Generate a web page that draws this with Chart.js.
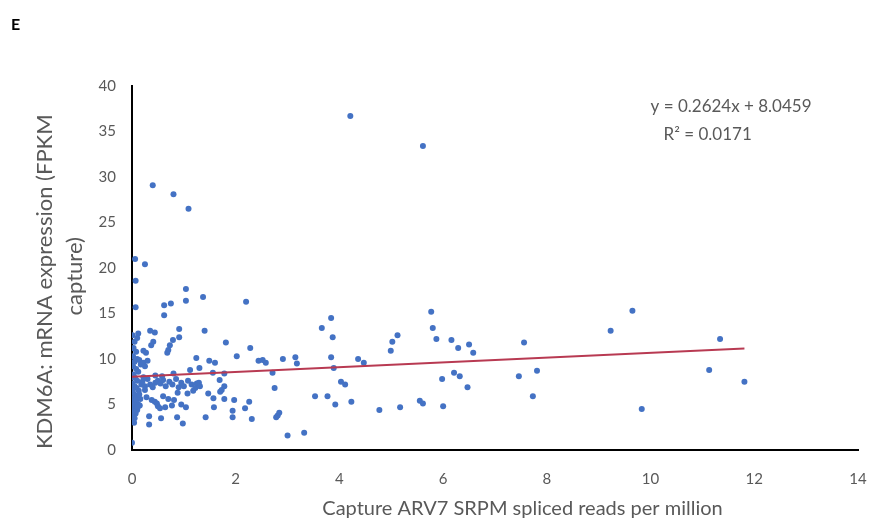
<!DOCTYPE html>
<html>
<head>
<meta charset="utf-8">
<script src="https://cdn.jsdelivr.net/npm/chart.js@4.4.1/dist/chart.umd.min.js"></script>
<style>
  body { margin: 0; background: #fff; }
  #wrap { position: relative; width: 872px; height: 521px; }
  #panel { position: absolute; left: 11px; top: 14px; font: bold 16px Lato, sans-serif; color: #000; }
</style>
</head>
<body>
<div id="wrap">
  <div id="panel">E</div>
  <canvas id="chart"></canvas>
</div>
<script>
// x: Capture ARV7 SRPM, y: KDM6A FPKM (same order)
const arvReads = [
    // top / outliers
    4.21, 5.61, 0.40, 0.80, 1.09, 0.06, 0.25, 0.07, 1.04, 1.37, 1.04, 2.20, 0.07, 0.62, 0.75, 0.62,
    // column at the y axis
    0.01, 0.05, 0.10, 0.12, 0.03, 0.08, 0.02, 0.10, 0.05, 0.14, 0.02, 0.08, 0.12, 0.03, 0.06, 0.10,
    0.01, 0.05, 0.09, 0.13, 0.02, 0.06, 0.10, 0.01, 0.04, 0.08, 0.12, 0.02, 0.06, 0.10, 0.03, 0.07,
    0.01, 0.05, 0.02, 0.04, 0.00, 0.15, 0.16, 0.14, 0.18, 0.03, 0.07, 0.11, 0.00, 0.00, 0.17,
    // 0.15 - 0.5
    0.22, 0.27, 0.22, 0.25, 0.30, 0.35, 0.44, 0.41, 0.37, 0.28, 0.38, 0.44, 0.33, 0.33, 0.20, 0.25,
    0.30, 0.35, 0.40, 0.45, 0.50, 0.22, 0.48, 0.50, 0.25, 0.45,
    // 0.5 - 1.3
    0.54, 0.56, 0.64, 0.77, 0.81, 0.87, 0.98, 1.04, 1.07, 0.79, 0.73, 0.70, 0.68, 0.91, 0.91, 0.80,
    1.12, 0.55, 0.60, 0.65, 0.72, 0.78, 0.85, 0.90, 0.95, 1.00, 1.08, 1.15, 1.22, 1.25, 0.60, 0.70,
    0.88, 0.95, 0.58, 1.18,
    // 1.3 - 3.3
    1.30, 1.40, 1.81, 2.28, 2.02, 1.24, 1.49, 1.60, 2.44, 2.52, 2.58, 2.91, 3.15, 3.18, 2.71, 1.78,
    1.56, 1.69, 1.29, 1.31, 1.78, 1.73, 1.70, 1.47, 1.57, 1.78, 1.97, 2.26, 2.75, 1.58, 1.94, 2.18,
    1.42, 1.94, 2.31, 2.78, 2.81, 2.84, 3.00, 3.32,
    // beyond 3.3
    3.53, 3.77, 3.66, 3.84, 3.87, 3.84, 3.89, 4.03, 4.11, 3.92, 4.23, 4.36, 4.47, 4.77, 5.17, 4.99,
    5.02, 5.12, 5.55, 5.61, 5.77, 5.80, 5.87, 5.98, 6.00, 6.16, 6.29, 6.50, 6.58, 6.21, 6.32, 6.47,
    7.56, 7.46, 7.73, 7.81, 9.23, 9.65, 9.83, 11.13, 11.34, 11.81
];
const kdmExpression = [
    36.7, 33.4, 29.1, 28.1, 26.5, 21.0, 20.4, 18.6, 17.7, 16.8, 16.4, 16.3, 15.7, 15.9, 16.1, 14.8,
    12.6, 11.9, 12.3, 12.8, 11.2, 10.8, 10.3, 10.0, 9.7, 9.9, 9.2, 8.9, 8.6, 8.3, 7.9, 7.6,
    7.3, 7.0, 6.8, 6.5, 6.3, 6.0, 5.8, 5.6, 5.4, 5.2, 5.0, 4.8, 4.6, 4.4, 4.2, 4.0,
    3.7, 3.5, 3.2, 3.0, 0.8, 4.9, 5.6, 6.1, 7.2, 5.1, 5.5, 4.7, 6.6, 8.0, 9.4,
    10.9, 10.7, 9.6, 9.2, 9.8, 13.1, 12.9, 11.9, 11.5, 5.8, 5.5, 5.3, 3.7, 2.8, 7.5, 7.0,
    7.8, 7.2, 6.9, 7.4, 7.6, 8.0, 5.1, 4.8, 6.6, 8.2,
    4.6, 3.5, 4.7, 4.9, 5.5, 3.6, 2.9, 4.7, 6.2, 12.1, 11.5, 11.0, 10.7, 13.3, 12.4, 8.4,
    8.8, 7.3, 7.7, 7.0, 7.5, 7.2, 7.8, 6.9, 7.4, 7.0, 7.6, 7.2, 6.8, 7.3, 5.9, 5.6,
    6.3, 5.0, 8.1, 6.5,
    9.0, 13.1, 11.8, 11.2, 10.3, 10.1, 9.8, 9.6, 9.8, 9.9, 9.6, 10.0, 10.2, 9.5, 8.5, 8.4,
    8.5, 7.7, 7.4, 7.0, 7.0, 6.6, 6.4, 6.2, 5.7, 5.6, 5.5, 5.3, 6.8, 4.7, 4.3, 4.6,
    3.6, 3.6, 3.4, 3.6, 3.8, 4.1, 1.6, 1.9,
    5.9, 5.9, 13.4, 14.5, 12.4, 10.2, 9.0, 7.5, 7.2, 5.0, 5.3, 10.0, 9.6, 4.4, 4.7, 10.9,
    11.9, 12.6, 5.4, 5.1, 15.2, 13.4, 12.2, 7.8, 4.8, 12.1, 11.2, 11.6, 10.7, 8.5, 8.1, 6.9,
    11.8, 8.1, 5.9, 8.7, 13.1, 15.3, 4.5, 8.8, 12.2, 7.5
];

// linear trendline as printed on the figure
const slope = 0.2624;
const intercept = 8.0459;
const rSquared = 0.0171;
const xTicks = [0, 2, 4, 6, 8, 10, 12, 14];

const points = arvReads.map((x, i) => ({ x: x, y: kdmExpression[i] }));
const xMax = Math.max(...arvReads);
const trend = [
    { x: 0, y: intercept },
    { x: xMax, y: slope * xMax + intercept }
];

const gray = '#595959';
const fontFamily = 'Lato, "Liberation Sans", sans-serif';

const equationLabel = {
    id: 'equationLabel',
    afterDraw(chart) {
        const c = chart.ctx, sx = chart.scales.x, sy = chart.scales.y;
        c.save();
        c.fillStyle = gray;
        c.font = '17px ' + fontFamily;
        c.textBaseline = 'middle';
        c.textAlign = 'left';
        c.fillText('y = ' + slope + 'x + ' + intercept, sx.getPixelForValue(10.0), sy.getPixelForValue(37.8));
        c.fillText('R² = ' + rSquared, sx.getPixelForValue(10.25), sy.getPixelForValue(34.7));
        c.restore();
    }
};

new Chart(document.querySelector('#chart'), {
    type: 'scatter',
    data: {
        datasets: [
            {
                label: 'samples',
                data: points,
                backgroundColor: '#4472C4',
                borderColor: '#4472C4',
                pointRadius: 3,
                pointBorderWidth: 0,
                order: 2
            },
            {
                type: 'line',
                label: 'trend',
                data: trend,
                borderColor: '#B83A52',
                borderWidth: 2,
                pointRadius: 0,
                fill: false,
                order: 1
            }
        ]
    },
    plugins: [equationLabel],
    options: {
        responsive: true,
        maintainAspectRatio: false,
        animation: false,
        layout: { padding: { top: 86, left: 0, right: 14, bottom: 0 } },
        plugins: { legend: { display: false }, tooltip: { enabled: false } },
        scales: {
            x: {
                type: 'linear',
                min: 0,
                max: 14,
                afterBuildTicks: (s) => { s.ticks = xTicks.map(v => ({ value: v })); },
                afterFit: (s) => { s.height = 71; },
                // invisible tick marks only push the labels down
                grid: { display: false, drawTicks: true, tickLength: 17 },
                border: { display: true, color: '#000', width: 2 },
                ticks: { color: gray, font: { family: fontFamily, size: 15 }, padding: 3 },
                title: {
                    display: true,
                    text: '\u2003\u2003\u2003\u2002Capture ARV7 SRPM spliced reads per million',
                    color: gray,
                    font: { family: fontFamily, size: 20 },
                    padding: { top: 2, bottom: 0 }
                }
            },
            y: {
                min: 0,
                max: 40,
                afterFit: (s) => { s.width = 132; },
                grid: { display: false, drawTicks: false },
                border: { display: true, color: '#000', width: 2 },
                ticks: { stepSize: 5, color: gray, font: { family: fontFamily, size: 15 }, padding: 16 },
                title: {
                    display: true,
                    text: ['KDM6A: mRNA expression (FPKM\u2003\u2002', 'capture)\u2003'],
                    color: gray,
                    font: { family: fontFamily, size: 22, lineHeight: 1.35 },
                    padding: { top: 30, bottom: 0 }
                }
            }
        }
    }
});
</script>
</body>
</html>
